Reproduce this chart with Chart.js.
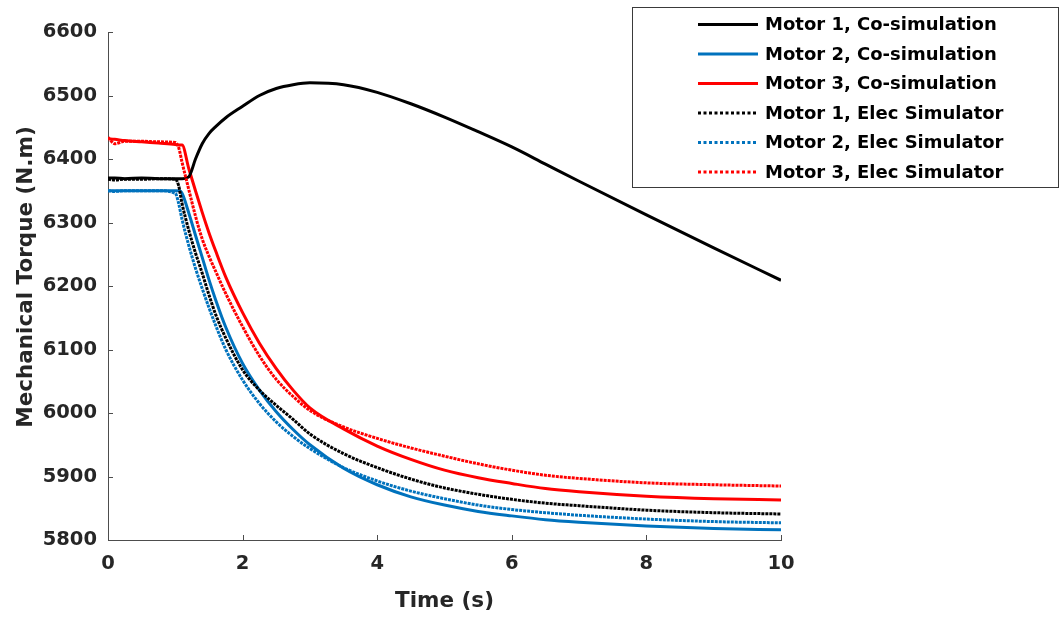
<!DOCTYPE html>
<html>
<head>
<meta charset="utf-8">
<script src="https://cdn.jsdelivr.net/npm/chart.js@4.4.1/dist/chart.umd.min.js"></script>
<style>
   html, body { margin: 0; padding: 0; background: #ffffff; }
   #wrap { position: relative; width: 1062px; height: 617px; }
</style>
</head>
<body>
<div id="wrap"><canvas id="torque"></canvas></div>
<script>
// time base (s) shared by every trace
const timeS = [0, 0.1, 0.25, 0.5, 0.75, 1.0, 1.05, 1.1, 1.2, 1.3,
               1.4, 1.5, 1.6, 1.75, 2.0, 2.25, 2.5, 2.75, 3.0, 3.5,
               4.0, 4.5, 5.0, 5.5, 6.0, 6.5, 7.0, 8.0, 9.0, 10.0];

// mechanical torque (N.m)
const m1Cosim = [6370, 6370, 6369, 6370, 6369, 6369, 6369, 6369, 6372, 6400,
                 6424, 6440, 6451, 6465, 6483, 6500, 6511, 6517, 6520, 6517,
                 6505, 6487, 6466, 6443, 6419, 6392, 6365, 6312, 6260, 6209];
const m2Cosim = [6350, 6350, 6350, 6350, 6350, 6350, 6350, 6346, 6315, 6280,
                 6245, 6210, 6178, 6135, 6078, 6036, 6002, 5974, 5950, 5913,
                 5887, 5868, 5855, 5845, 5838, 5832, 5828, 5822, 5818, 5816];
const m3Cosim = [6432, 6431, 6429, 6427, 6425, 6423, 6422, 6422, 6385, 6350,
                 6316, 6284, 6255, 6214, 6158, 6110, 6070, 6036, 6008, 5975,
                 5948, 5927, 5910, 5898, 5889, 5881, 5876, 5869, 5865, 5863];
const m1Elec  = [6368, 6367, 6368, 6368, 6369, 6368, 6358, 6330, 6288, 6252,
                 6220, 6186, 6155, 6118, 6068, 6036, 6012, 5990, 5967, 5936,
                 5914, 5896, 5882, 5872, 5864, 5858, 5854, 5847, 5843, 5841];
const m2Elec  = [6350, 6349, 6350, 6350, 6350, 6346, 6330, 6305, 6264, 6228,
                 6196, 6166, 6138, 6100, 6052, 6015, 5986, 5963, 5944, 5914,
                 5893, 5877, 5865, 5855, 5848, 5843, 5839, 5833, 5829, 5827];
const m3Elec  = [6434, 6424, 6428, 6428, 6427, 6426, 6418, 6395, 6352, 6310,
                 6274, 6247, 6223, 6188, 6136, 6090, 6053, 6026, 6004, 5978,
                 5960, 5945, 5932, 5920, 5910, 5902, 5897, 5890, 5887, 5885];

const seriesLabels = ['Motor 1, Co-simulation', 'Motor 2, Co-simulation', 'Motor 3, Co-simulation',
                      'Motor 1, Elec Simulator', 'Motor 2, Elec Simulator', 'Motor 3, Elec Simulator'];
const xTickVals = [0, 2, 4, 6, 8, 10];
const yTickVals = [5800, 5900, 6000, 6100, 6200, 6300, 6400, 6500, 6600];
const xTitle = 'Time (s)';
const yTitle = 'Mechanical Torque (N.m)';

const FONT = "'DejaVu Sans', 'Liberation Sans', sans-serif";
const AXIS_GRAY = '#4d4d4d';
const TEXT_GRAY = '#262626';
const BLUE = '#0072BD';
const RED = '#FF0000';

function pts(vals) {
   return timeS.map((t, i) => ({ x: t, y: vals[i] }));
}

function trace(idx, vals, color, elec) {
   return {
      label: seriesLabels[idx],
      data: pts(vals),
      borderColor: color,
      borderWidth: 3,
      borderDash: elec ? [3, 1] : [],
      elec: elec,
      order: elec ? 0 : 1, // simulator traces sit on top
      pointRadius: 0,
      cubicInterpolationMode: 'monotone',
      fill: false
   };
}

// inward ticks, rotated y title and the boxed legend top right
const torqueDecor = {
   id: 'torqueDecor',
   afterDraw: (chart) => {
      const ctx = chart.ctx;
      const xs = chart.scales.x, ys = chart.scales.y;
      const area = chart.chartArea;
      ctx.save();

      ctx.strokeStyle = AXIS_GRAY;
      ctx.lineWidth = 1;
      ctx.setLineDash([]);
      ctx.beginPath();
      xTickVals.forEach((v) => {
         const px = Math.round(xs.getPixelForValue(v)) + 0.5;
         ctx.moveTo(px, area.bottom);
         ctx.lineTo(px, area.bottom - 5);
      });
      yTickVals.forEach((v) => {
         const py = Math.round(ys.getPixelForValue(v)) + 0.5;
         ctx.moveTo(area.left, py);
         ctx.lineTo(area.left + 5, py);
      });
      ctx.stroke();

      ctx.save();
      ctx.translate(26.5, 277);
      ctx.rotate(-Math.PI / 2);
      ctx.fillStyle = TEXT_GRAY;
      ctx.font = 'bold 21.5px ' + FONT;
      ctx.textAlign = 'center';
      ctx.textBaseline = 'middle';
      ctx.fillText(yTitle, 0, 0);
      ctx.restore();

      // legend
      const bl = 632, bt = 7, br = 1058, bb = 187;
      ctx.fillStyle = '#ffffff';
      ctx.fillRect(bl, bt, br - bl, bb - bt);
      ctx.strokeStyle = '#3a3a3a';
      ctx.lineWidth = 1;
      ctx.strokeRect(bl + 0.5, bt + 0.5, br - bl, bb - bt);

      ctx.font = 'bold 18px ' + FONT;
      ctx.textAlign = 'left';
      ctx.textBaseline = 'middle';
      chart.data.datasets.forEach((ds, i) => {
         const y = 24.5 + i * 29.5;
         ctx.strokeStyle = ds.borderColor;
         ctx.lineWidth = 3;
         ctx.setLineDash(ds.elec ? [3, 2.5] : []);
         ctx.beginPath();
         ctx.moveTo(698, y);
         ctx.lineTo(758, y);
         ctx.stroke();
         ctx.setLineDash([]);
         ctx.fillStyle = '#000000';
         ctx.fillText(ds.label, 765, y + 1);
      });
      ctx.restore();
   }
};

Chart.defaults.font.family = FONT;
Chart.defaults.font.weight = 'bold';
Chart.defaults.color = TEXT_GRAY;

new Chart(document.getElementById('torque'), {
   type: 'line',
   data: {
      datasets: [
         trace(0, m1Cosim, '#000000', false),
         trace(1, m2Cosim, BLUE, false),
         trace(2, m3Cosim, RED, false),
         trace(3, m1Elec, '#000000', true),
         trace(4, m2Elec, BLUE, true),
         trace(5, m3Elec, RED, true)
      ]
   },
   options: {
      responsive: true,
      maintainAspectRatio: false,
      devicePixelRatio: 1,
      animation: false,
      events: [],
      layout: { padding: { left: 0, top: 32, right: 281, bottom: 0 } },
      plugins: {
         legend: { display: false },
         tooltip: { enabled: false }
      },
      scales: {
         x: {
            type: 'linear',
            min: 0,
            max: 10,
            afterBuildTicks: (s) => { s.ticks = xTickVals.map((v) => ({ value: v })); },
            afterFit: (s) => { s.height = 77; },
            grid: { display: false, drawTicks: false },
            border: { display: true, color: AXIS_GRAY, width: 1 },
            ticks: {
               font: { size: 19.5, weight: 'bold' },
               color: TEXT_GRAY,
               padding: 12,
               maxRotation: 0,
               callback: (v) => String(v)
            },
            title: {
               display: true,
               text: xTitle,
               color: TEXT_GRAY,
               font: { size: 21.5, weight: 'bold' },
               padding: { top: 0, bottom: 3 }
            }
         },
         y: {
            type: 'linear',
            min: 5800,
            max: 6600,
            afterBuildTicks: (s) => { s.ticks = yTickVals.map((v) => ({ value: v })); },
            afterFit: (s) => { s.width = 108; },
            grid: { display: false, drawTicks: false },
            border: { display: true, color: AXIS_GRAY, width: 1 },
            ticks: {
               font: { size: 19.5, weight: 'bold' },
               color: TEXT_GRAY,
               padding: 11,
               callback: (v) => String(v)
            }
         }
      }
   },
   plugins: [torqueDecor]
});
</script>
</body>
</html>
